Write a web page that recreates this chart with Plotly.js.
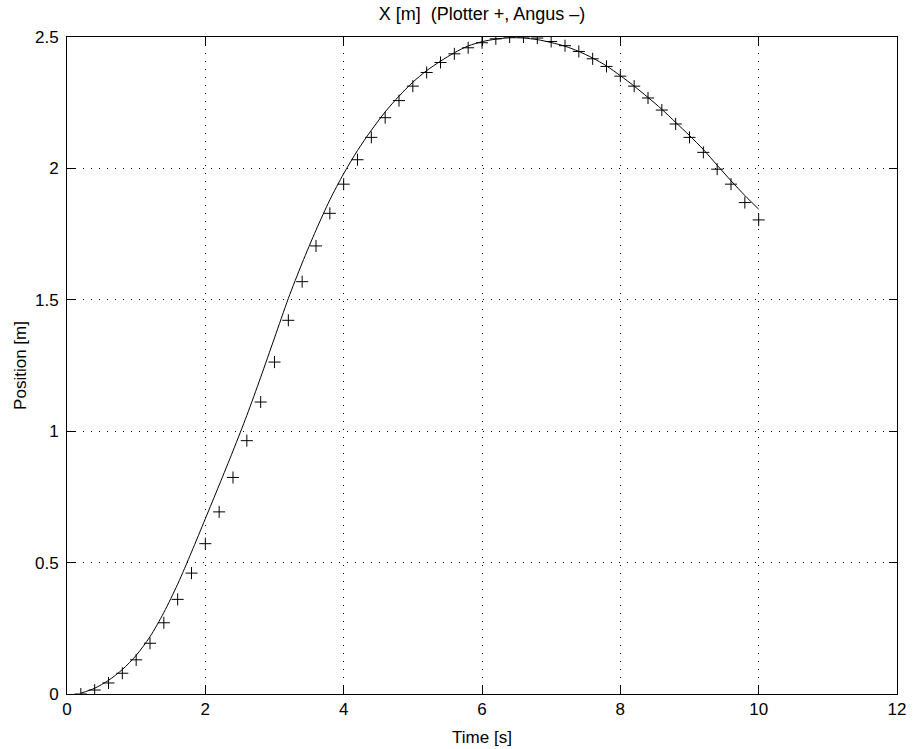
<!DOCTYPE html>
<html>
<head>
<meta charset="utf-8">
<script src="https://cdn.plot.ly/plotly-3.0.1.min.js"></script>
<style>html,body{margin:0;padding:0;background:#fff;}#chart{width:916px;height:749px;}</style>
</head>
<body>
<div id="chart"></div>
<script>
// Plotter (+ markers)
const plotterTime = [0.2,0.4,0.6,0.8,1.0,1.2,1.4,1.6,1.8,2.0,2.2,2.4,2.6,2.8,3.0,3.2,3.4,3.6,3.8,4.0,
  4.2,4.4,4.6,4.8,5.0,5.2,5.4,5.6,5.8,6.0,6.2,6.4,6.6,6.8,7.0,7.2,7.4,7.6,7.8,8.0,
  8.2,8.4,8.6,8.8,9.0,9.2,9.4,9.6,9.8,10.0];
const plotterPos = [0.0,0.015,0.042,0.079,0.13,0.193,0.271,0.36,0.46,0.572,0.693,0.824,0.964,1.111,1.263,1.422,1.569,1.705,1.829,1.94,
  2.033,2.118,2.193,2.258,2.313,2.365,2.403,2.436,2.459,2.478,2.493,2.5,2.5,2.496,2.483,2.467,2.445,2.417,2.388,2.351,
  2.313,2.268,2.222,2.169,2.118,2.061,1.997,1.94,1.87,1.804];
// Angus (solid line)
const angusTime = [0.2,0.4,0.6,0.8,1.0,1.2,1.4,1.6,1.8,2.0,2.2,2.4,2.6,2.8,3.0,3.2,3.4,3.6,3.8,4.0,
  4.2,4.4,4.6,4.8,5.0,5.2,5.4,5.6,5.8,6.0,6.2,6.4,6.6,6.8,7.0,7.2,7.4,7.6,7.8,8.0,
  8.2,8.4,8.6,8.8,9.0,9.2,9.4,9.6,9.8,10.0];
const angusPos = [0.003,0.022,0.052,0.093,0.147,0.218,0.31,0.418,0.54,0.667,0.795,0.925,1.06,1.205,1.355,1.505,1.64,1.765,1.88,1.98,
  2.068,2.145,2.215,2.275,2.328,2.372,2.408,2.44,2.466,2.482,2.492,2.497,2.496,2.49,2.479,2.465,2.445,2.42,2.39,2.353,
  2.313,2.27,2.225,2.175,2.125,2.072,2.012,1.953,1.897,1.845];
const xTicks = [0,2,4,6,8,10,12];
const yTicks = [0,0.5,1,1.5,2,2.5];

const FONT = 'Liberation Sans, Arial, sans-serif';

const traces = [
  {x: angusTime, y: angusPos, mode: 'lines', type: 'scatter', name: 'Angus',
   line: {color: '#000', width: 1, shape: 'spline', smoothing: 0.8}},
  {x: plotterTime, y: plotterPos, mode: 'markers', type: 'scatter', name: 'Plotter',
   marker: {symbol: 'cross-thin-open', size: 8.6, color: '#000', line: {color: '#000', width: 1}}}
];

const axisCommon = {
  showline: true, linecolor: '#000', linewidth: 1, mirror: 'ticks',
  ticks: 'inside', ticklen: 8, tickcolor: '#000', tickwidth: 1,
  showgrid: true, gridcolor: '#000', gridwidth: 1, griddash: '1px,7px',
  zeroline: false, tickfont: {family: FONT, size: 17, color: '#000'}
};

const layout = {
  width: 916, height: 749,
  margin: {l: 67, r: 19, t: 37, b: 55},
  paper_bgcolor: '#fff', plot_bgcolor: '#fff',
  showlegend: false,
  title: {text: 'X [m]  (Plotter +, Angus –)', x: 0.5262, xanchor: 'center', y: 0.9813, yanchor: 'middle',
          font: {family: FONT, size: 18, color: '#000'}},
  xaxis: Object.assign({}, axisCommon, {range: [0, 12], tickvals: xTicks, ticktext: xTicks.map(String),
     title: {text: 'Time [s]', standoff: 12, font: {family: FONT, size: 17, color: '#000'}}}),
  yaxis: Object.assign({}, axisCommon, {range: [0, 2.5], tickvals: yTicks, ticktext: yTicks.map(String),
     ticklabelstandoff: 4,
     title: {text: 'Position [m]', standoff: 4, font: {family: FONT, size: 17, color: '#000'}}})
};

Plotly.newPlot('chart', traces, layout, {displayModeBar: false, staticPlot: true});
</script>
</body>
</html>
